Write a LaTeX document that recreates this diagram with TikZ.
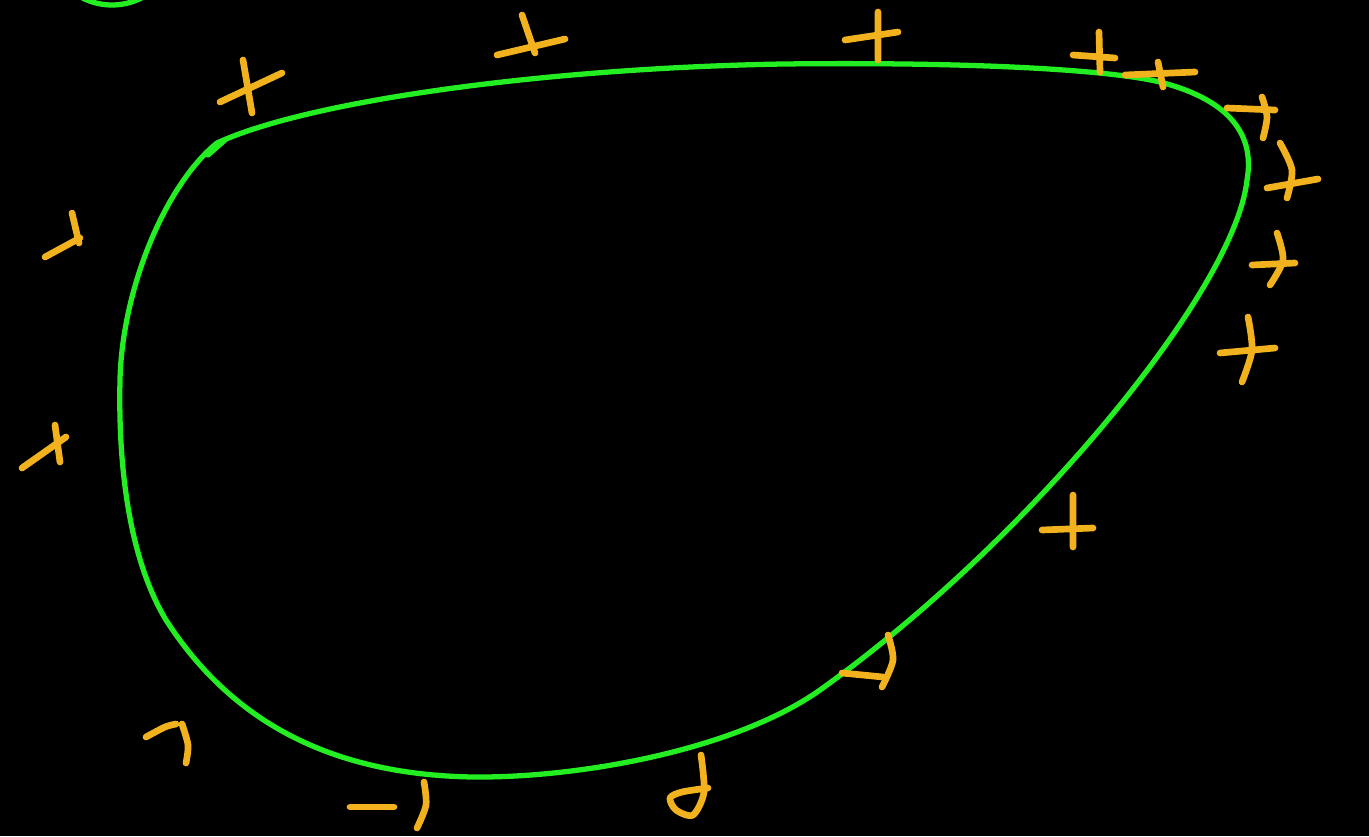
\documentclass[tikz,border=0pt]{standalone}
\usetikzlibrary{calc}
\definecolor{inkgreen}{HTML}{22EE22}
\definecolor{inkorange}{HTML}{F2B21E}
\tikzset{
  contour/.style={draw=inkgreen, line width=7.5pt, line cap=round, line join=round},
  tick/.style={draw=inkorange, line width=9.5pt, line cap=round, line join=round},
}
\begin{document}
\begin{tikzpicture}[x=0.05cm, y=-0.05cm]
\fill[black] (0,0) rectangle (1369,836);
\useasboundingbox (0,0) rectangle (1369,836);
\clip (0,0) rectangle (1369,836);
% closed green loop
\draw[contour] (217,143) .. controls (310,100) and (550,68) .. (783,64)
  .. controls (950,62) and (1100,68) .. (1160,82)
  .. controls (1230,100) and (1255,135) .. (1247,180)
  .. controls (1235,290) and (1030,540) .. (820,690)
  .. controls (735,750) and (580,778) .. (473,777)
  .. controls (350,775) and (240,735) .. (166,620)
  .. controls (130,560) and (118,470) .. (120,380)
  .. controls (122,290) and (165,185) .. (217,143);
\draw[contour] (208,155) -- (225,140);
% piece of another loop, cut at the top edge
\draw[contour] (112,-60) circle[radius=65];
% orange marks round the loop
\draw[tick] (243,60) -- (252,113) (220,102) -- (282,73);
\draw[tick] (522,15) -- (535,53) (497,55) -- (565,39);
\draw[tick] (878,12) -- (878,60) (845,40) -- (898,32);
\draw[tick] (1099,32) -- (1100,72) (1073,55) -- (1115,58);
\draw[tick] (1158,62) -- (1163,87) (1125,75) -- (1195,72);
\draw[tick] (1227,108) -- (1275,110);
\draw[tick] plot[smooth] coordinates {(1262,97) (1267,117) (1263,138)};
\draw[tick] plot[smooth] coordinates {(1280,143) (1292,170) (1287,198)};
\draw[tick] (1267,188) -- (1318,179);
\draw[tick] plot[smooth] coordinates {(1277,233) (1283,260) (1270,285)};
\draw[tick] (1252,265) -- (1295,263);
\draw[tick] plot[smooth] coordinates {(1248,317) (1252,350) (1242,382)};
\draw[tick] (1220,353) -- (1275,348);
\draw[tick] (1073,495) -- (1073,547) (1042,530) -- (1093,528);
\draw[tick] (842,673) -- (883,677);
\draw[tick] plot[smooth] coordinates {(888,635) (893,660) (882,687)};
\draw[tick] plot[smooth] coordinates {(701,755) (704,792) (693,815) (676,810) (670,798) (682,792) (708,788)};
\draw[tick] (350,807) -- (394,807);
\draw[tick] plot[smooth] coordinates {(424,782) (426,805) (417,828)};
\draw[tick] plot[smooth] coordinates {(146,737) (165,727) (176,724)};
\draw[tick] plot[smooth] coordinates {(182,724) (188,745) (186,763)};
\draw[tick] (72,213) -- (79,243) (45,257) -- (80,238);
\draw[tick] (55,425) -- (60,462) (22,468) -- (66,437);
\end{tikzpicture}
\end{document}
